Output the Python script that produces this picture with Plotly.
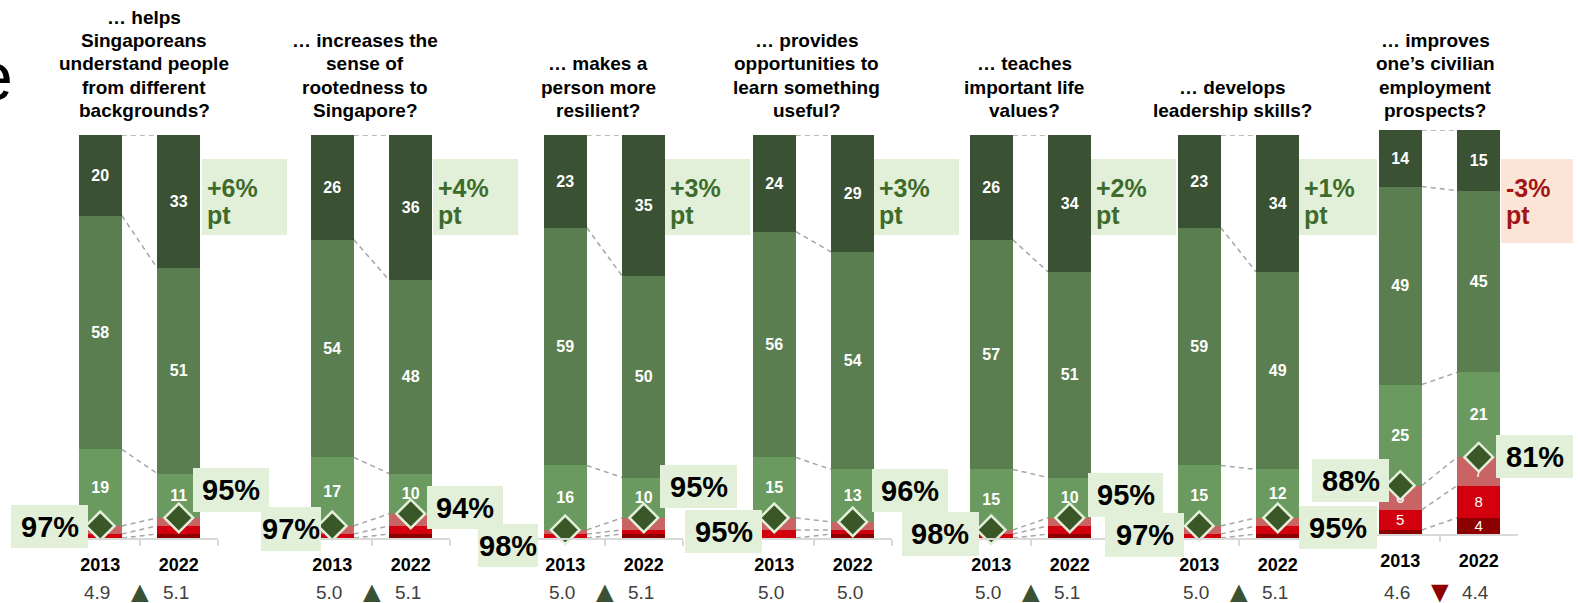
import plotly.graph_objects as go

W, H = 1580, 603
FONT = "Liberation Sans, Arial, Helvetica, sans-serif"

# ---- data -------------------------------------------------------------
statements = [
    "… helps\nSingaporeans\nunderstand people\nfrom different\nbackgrounds?",
    "… increases the\nsense of\nrootedness to\nSingapore?",
    "… makes a\nperson more\nresilient?",
    "… provides\nopportunities to\nlearn something\nuseful?",
    "… teaches\nimportant life\nvalues?",
    "… develops\nleadership skills?",
    "… improves\none’s civilian\nemployment\nprospects?",
]
years = ["2013", "2022"]

# shares in %, one [2013, 2022] pair per statement
strongly_agree = [[20, 33], [26, 36], [23, 35], [24, 29], [26, 34], [23, 34], [14, 15]]
agree = [[58, 51], [54, 48], [59, 50], [56, 54], [57, 51], [59, 49], [49, 45]]
slightly_agree = [[19, 11], [17, 10], [16, 10], [15, 13], [15, 10], [15, 12], [25, 21]]
slightly_disagree = [[2, 2], [2, 3], [1, 3], [3, 2], [1, 2], [2, 2], [6, 7]]
disagree = [[1, 2], [1, 2], [1, 1], [2, 1], [1, 2], [1, 2], [5, 8]]
strongly_disagree = [[0, 1], [0, 1], [0, 1], [0, 1], [0, 1], [0, 1], [1, 4]]
mean_score = [[4.9, 5.1], [5.0, 5.1], [5.0, 5.1], [5.0, 5.0], [5.0, 5.1], [5.0, 5.1], [4.6, 4.4]]

# ---- styling / layout -------------------------------------------------
segments = [  # bottom to top
    (strongly_disagree, "#8C0000", "normal"),
    (disagree, "#D2000F", "normal"),
    (slightly_disagree, "#C96464", "normal"),
    (slightly_agree, "#6A9A5F", "bold"),
    (agree, "#5B7E50", "bold"),
    (strongly_agree, "#3A5233", "bold"),
]
GREEN_BOX, PINK_BOX = "#E2F0D9", "#FBE5D6"
UP_COL, DOWN_COL = "#3E6B2B", "#8C0000"
DASH = dict(color="#A6A6A6", width=1.5, dash="5px,4px")
AXIS_GREY = "#D9D9D9"

UNIT = 78.5                                   # px per category slot
axis_left = [61, 293, 526, 735, 952, 1160, 1361]
title_cx = [144, 365, 598, 807, 1024, 1232, 1435]
plot_rows = [(135, 538)] * 6 + [(130, 534)]   # top / bottom px of each panel
BAR_W = 0.55

pct_box = [
    [(11, 88, 505, 548), (193, 269, 468, 512)],
    [(261, 321, 507, 551), (427, 503, 486, 529)],
    [(478, 538, 524, 567), (660, 737, 465, 508)],
    [(685, 762, 510, 553), (872, 948, 469, 512)],
    [(902, 979, 512, 556), (1088, 1163, 473, 517)],
    [(1105, 1184, 513, 557), (1299, 1377, 506, 549)],
    [(1312, 1389, 459, 502), (1496, 1573, 435, 478)],
]
change_box = [(202, 287, 159, 235), (433, 518, 159, 235), (665, 750, 159, 235),
              (874, 959, 159, 235), (1091, 1176, 159, 235), (1299, 1377, 159, 235),
              (1501, 1573, 159, 243)]


def px(x):
    return x / W


def py(y):
    return 1 - y / H


fig = go.Figure()
shapes, annotations = [], []
layout_axes = {}

for g in range(len(statements)):
    n = g + 1
    sfx = "" if n == 1 else str(n)
    xa, ya = "x" + sfx, "y" + sfx
    top, bottom = plot_rows[g]
    left = axis_left[g]

    # stacked bars
    for series, color, weight in segments:
        vals = series[g]
        fig.add_trace(go.Bar(
            x=years, y=vals, xaxis=xa, yaxis=ya, width=BAR_W,
            marker=dict(color=color, line=dict(width=0)),
            text=[str(v) if v >= 4 else "" for v in vals],
            textposition="inside", insidetextanchor="middle", textangle=0,
            constraintext="none",
            textfont=dict(family=FONT, size=16 if weight == "bold" else 15,
                          color="white", weight=weight),
            showlegend=False, hoverinfo="skip"))

    # dashed connectors between segment boundaries
    cum = [[0, 0]]
    for series, _, _ in segments:
        cum.append([cum[-1][i] + series[g][i] for i in range(2)])
    for lv in cum[1:]:
        shapes.append(dict(type="line", xref=xa, yref=ya,
                           x0=BAR_W / 2, x1=1 - BAR_W / 2, y0=lv[0], y1=lv[1],
                           line=DASH, layer="below"))

    disagree_total = [strongly_disagree[g][i] + disagree[g][i] + slightly_disagree[g][i]
                      for i in range(2)]
    agree_total = [slightly_agree[g][i] + agree[g][i] + strongly_agree[g][i] for i in range(2)]

    # percentage boxes
    for i in range(2):
        x0, x1, y0, y1 = pct_box[g][i]
        shapes.append(dict(type="rect", xref="paper", yref="paper",
                           x0=px(x0), x1=px(x1), y0=py(y1), y1=py(y0),
                           fillcolor=GREEN_BOX, line=dict(width=0), layer="above"))
        annotations.append(dict(xref="paper", yref="paper", x=px((x0 + x1) / 2),
                                y=py((y0 + y1) / 2), text=f"{agree_total[i]}%",
                                showarrow=False, xanchor="center", yanchor="middle",
                                font=dict(family=FONT, size=29, color="black", weight="bold")))

    # agree total marker (diamond at top of the disagree block)
    fig.add_trace(go.Scatter(
        x=years, y=disagree_total, xaxis=xa, yaxis=ya, mode="markers",
        marker=dict(symbol="diamond", size=22, color="#3A5728",
                    line=dict(color=GREEN_BOX, width=2.5)),
        cliponaxis=False, showlegend=False, hoverinfo="skip"))

    # change in (strongly agree + agree)
    top2 = [strongly_agree[g][i] + agree[g][i] for i in range(2)]
    delta = top2[1] - top2[0]
    bx0, bx1, by0, by1 = change_box[g]
    shapes.append(dict(type="rect", xref="paper", yref="paper",
                       x0=px(bx0), x1=px(bx1), y0=py(by1), y1=py(by0),
                       fillcolor=GREEN_BOX if delta >= 0 else PINK_BOX,
                       line=dict(width=0), layer="above"))
    dcol = UP_COL if delta >= 0 else "#A31515"
    for txt, yc in ((f"{delta:+d}%", 188), ("pt", 215)):
        annotations.append(dict(xref="paper", yref="paper", x=px(bx0 + 3), y=py(yc),
                                text=txt, showarrow=False, xanchor="left", yanchor="middle",
                                font=dict(family=FONT, size=25, color=dcol, weight="bold")))

    # statement title, bottom aligned
    lines = statements[g].split("\n")
    for k, line in enumerate(reversed(lines)):
        annotations.append(dict(xref="paper", yref="paper", x=px(title_cx[g]),
                                y=py(110.5 - 23.3 * k),
                                text=line, showarrow=False, xanchor="center", yanchor="middle",
                                font=dict(family=FONT, size=19, color="black", weight="bold")))

    # mean scores and trend arrow
    for i in range(2):
        annotations.append(dict(xref=xa, yref="paper", x=i, y=py(592),
                                text=f"{mean_score[g][i]:.1f}", showarrow=False,
                                xanchor="center", yanchor="middle", xshift=-3,
                                font=dict(family=FONT, size=19, color="#404040")))
    if mean_score[g][1] != mean_score[g][0]:
        up = mean_score[g][1] > mean_score[g][0]
        annotations.append(dict(xref=xa, yref="paper", x=0.5, y=py(591),
                                text="▲" if up else "▼", showarrow=False,
                                xanchor="center", yanchor="middle",
                                font=dict(family=FONT, size=30,
                                          color="#3A5233" if up else DOWN_COL)))

    layout_axes["xaxis" + sfx] = dict(
        domain=[px(left), px(left + 2 * UNIT)], anchor=ya, type="category",
        categoryorder="array", categoryarray=years, range=[-0.5, 1.5],
        tickson="boundaries", ticks="outside", ticklen=6, tickwidth=1.5,
        tickcolor=AXIS_GREY, showline=True, linecolor=AXIS_GREY, linewidth=1.5,
        showgrid=False, zeroline=False, fixedrange=True, ticklabelstandoff=10,
        tickfont=dict(family=FONT, size=18, color="black", weight="bold"))
    layout_axes["yaxis" + sfx] = dict(
        domain=[py(bottom), py(top)], anchor=xa, range=[0, 100],
        visible=False, fixedrange=True)

# cut-off heading letter at the left edge
annotations.append(dict(xref="paper", yref="paper", x=px(15), y=py(76), text="e",
                        showarrow=False, xanchor="right", yanchor="middle",
                        font=dict(family=FONT, size=68, color="black")))

fig.update_layout(
    width=W, height=H, margin=dict(l=0, r=0, t=0, b=0),
    paper_bgcolor="white", plot_bgcolor="rgba(0,0,0,0)",
    barmode="stack", showlegend=False,
    shapes=shapes, annotations=annotations, **layout_axes)

fig.write_html("out.html", config={"displayModeBar": False})
